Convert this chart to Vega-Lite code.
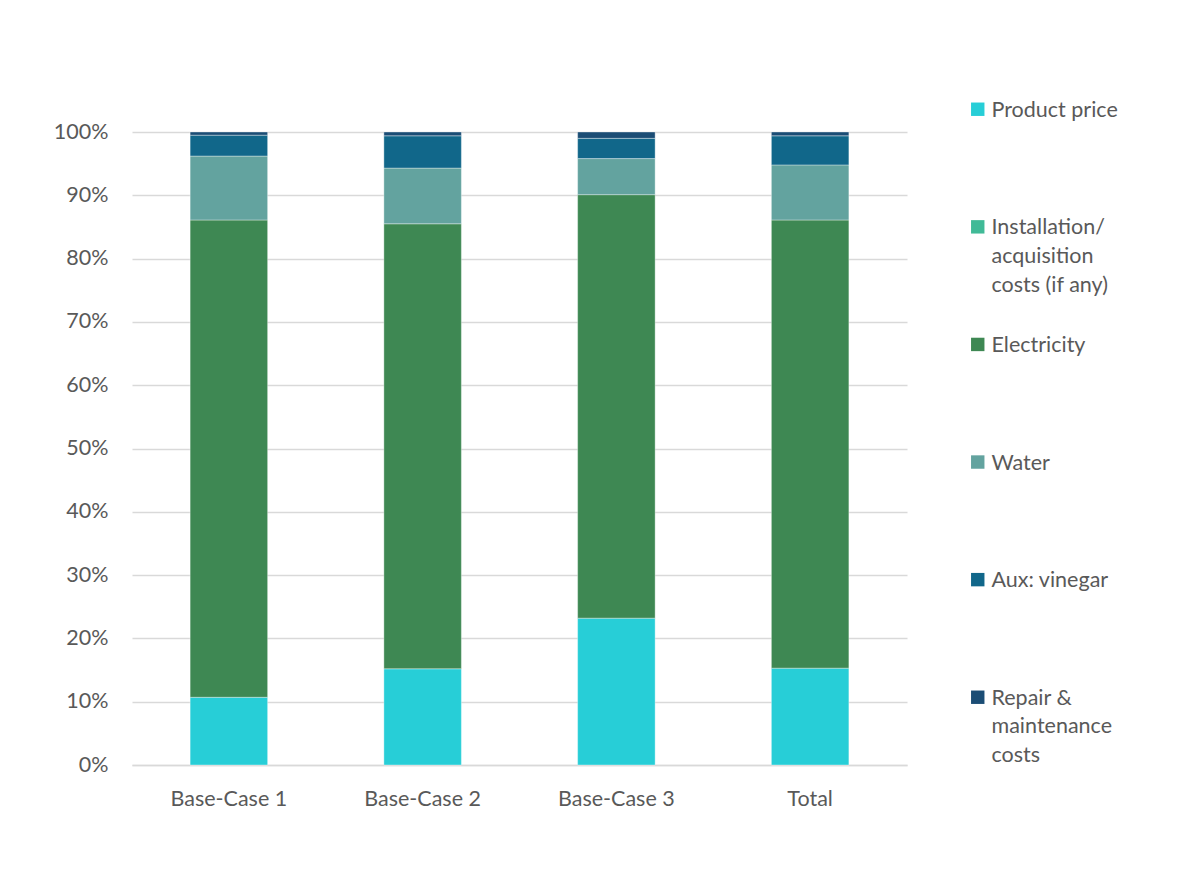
{
  "$schema": "https://vega.github.io/schema/vega-lite/v6.json",
  "width": 775,
  "height": 633,
  "autosize": {"type": "none"},
  "padding": {"left": 132, "top": 132, "right": 285, "bottom": 108},
  "background": "#ffffff",
  "data": {
    "values": [
      {"case": "Base-Case 1", "component": "Product price", "ord": 1, "share": 10.7},
      {"case": "Base-Case 1", "component": "Electricity", "ord": 3, "share": 75.4},
      {"case": "Base-Case 1", "component": "Water", "ord": 4, "share": 10.1},
      {"case": "Base-Case 1", "component": "Aux: vinegar", "ord": 5, "share": 3.3},
      {"case": "Base-Case 1", "component": "Repair & maintenance costs", "ord": 6, "share": 0.5},
      {"case": "Base-Case 2", "component": "Product price", "ord": 1, "share": 15.2},
      {"case": "Base-Case 2", "component": "Electricity", "ord": 3, "share": 70.3},
      {"case": "Base-Case 2", "component": "Water", "ord": 4, "share": 8.8},
      {"case": "Base-Case 2", "component": "Aux: vinegar", "ord": 5, "share": 5.1},
      {"case": "Base-Case 2", "component": "Repair & maintenance costs", "ord": 6, "share": 0.6},
      {"case": "Base-Case 3", "component": "Product price", "ord": 1, "share": 23.2},
      {"case": "Base-Case 3", "component": "Electricity", "ord": 3, "share": 66.9},
      {"case": "Base-Case 3", "component": "Water", "ord": 4, "share": 5.7},
      {"case": "Base-Case 3", "component": "Aux: vinegar", "ord": 5, "share": 3.2},
      {"case": "Base-Case 3", "component": "Repair & maintenance costs", "ord": 6, "share": 1.0},
      {"case": "Total", "component": "Product price", "ord": 1, "share": 15.3},
      {"case": "Total", "component": "Electricity", "ord": 3, "share": 70.8},
      {"case": "Total", "component": "Water", "ord": 4, "share": 8.7},
      {"case": "Total", "component": "Aux: vinegar", "ord": 5, "share": 4.6},
      {"case": "Total", "component": "Repair & maintenance costs", "ord": 6, "share": 0.6}
    ]
  },
  "mark": {"type": "bar", "stroke": "#ffffff", "strokeWidth": 0.6, "strokeOpacity": 0.6},
  "encoding": {
    "x": {
      "field": "case",
      "type": "nominal",
      "sort": ["Base-Case 1", "Base-Case 2", "Base-Case 3", "Total"],
      "scale": {"paddingInner": 0.6, "paddingOuter": 0.3},
      "axis": {
        "title": null,
        "labelAngle": 0,
        "ticks": false,
        "domain": true,
        "domainColor": "#D9D9D9",
        "domainWidth": 1.5,
        "labelPadding": 23,
        "labelFont": "Lato",
        "labelFontSize": 21.5,
        "labelColor": "#595959"
      }
    },
    "y": {
      "field": "share",
      "type": "quantitative",
      "stack": "normalize",
      "scale": {"domain": [0, 1]},
      "axis": {
        "title": null,
        "values": [0, 0.1, 0.2, 0.3, 0.4, 0.5, 0.6, 0.7, 0.8, 0.9, 1],
        "format": ".0%",
        "domain": false,
        "ticks": false,
        "grid": true,
        "gridColor": "#D9D9D9",
        "gridWidth": 1.5,
        "labelPadding": 24,
        "labelFont": "Lato",
        "labelFontSize": 21.5,
        "labelColor": "#595959"
      }
    },
    "order": {"field": "ord", "type": "quantitative", "sort": "ascending"},
    "color": {
      "field": "component",
      "type": "nominal",
      "scale": {
        "domain": ["Product price", "Installation/acquisition costs (if any)", "Electricity", "Water", "Aux: vinegar", "Repair & maintenance costs"],
        "range": ["#27CED7", "#40BA97", "#3E8853", "#63A39F", "#11678A", "#1B4D75"]
      },
      "legend": {
        "title": null,
        "orient": "none",
        "legendX": 835,
        "legendY": -26,
        "direction": "vertical",
        "gridAlign": "all",
        "rowPadding": 37.6,
        "symbolType": "M-1,-2.12L1,-2.12L1,-0.12L-1,-0.12Z",
        "symbolSize": 180,
        "symbolStrokeWidth": 0,
        "symbolOpacity": 1,
        "labelBaseline": "alphabetic",
        "labelOffset": 3,
        "labelFont": "Lato",
        "labelFontSize": 21.5,
        "labelColor": "#595959",
        "labelLimit": 300,
        "labelExpr": "datum.label == 'Installation/acquisition costs (if any)' ? ['Installation/', 'acquisition', 'costs (if any)'] : datum.label == 'Repair & maintenance costs' ? ['Repair &', 'maintenance', 'costs'] : datum.label"
      }
    }
  },
  "config": {
    "view": {"stroke": null},
    "style": {"guide-label": {"lineHeight": 28.7}}
  }
}
